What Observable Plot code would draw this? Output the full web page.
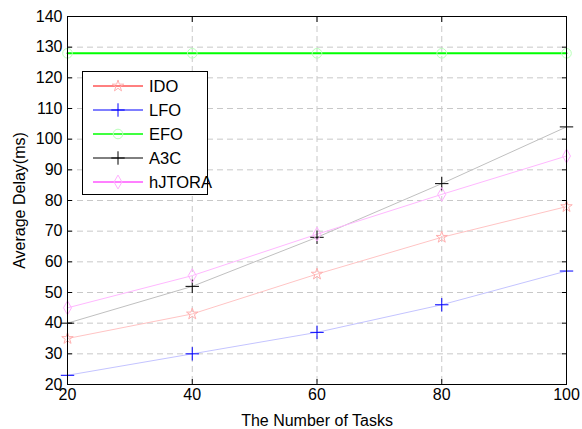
<!DOCTYPE html>
<html>
<head>
<meta charset="utf-8">
<script src="https://cdn.jsdelivr.net/npm/d3@7"></script>
<script src="https://cdn.jsdelivr.net/npm/@observablehq/plot@0.6"></script>
<style>
  html, body { margin: 0; padding: 0; background: #fff; }
  #wrap { position: relative; width: 582px; height: 429px; font-family: "Liberation Sans", Arial, sans-serif; }
  #legend { position: absolute; left: 82px; top: 71px; width: 126px; height: 124px; border: 1px solid #000; background: #fff; box-sizing: border-box; }
  .row { position: absolute; left: 0; height: 24px; width: 124px; }
  .row svg { position: absolute; left: 10px; top: 0; }
  .row span { position: absolute; left: 66px; top: 2px; font-size: 16.5px; color: #000; line-height: 20px; font-family: "Liberation Sans", Arial, sans-serif; }
</style>
</head>
<body>
<div id="wrap"></div>
<script>
const tasks = [20, 40, 60, 80, 100];
const IDO = [35, 43, 56, 68, 78];
const LFO = [23, 30, 37, 46, 57];
const EFO = [128, 128, 128, 128, 128];
const A3C = [40, 52, 68, 85.5, 104];
const hJTORA = [45, 55.5, 69, 82, 94.5];
const yTicks = [20, 30, 40, 50, 60, 70, 80, 90, 100, 110, 120, 130, 140];
const xTicks = [20, 40, 60, 80, 100];

const seriesNames = ["IDO", "LFO", "EFO", "A3C", "hJTORA"];
const seriesValues = [IDO, LFO, EFO, A3C, hJTORA];
const lineColors = ["#ffc4c4", "#c4c4ff", "#00ff00", "#c0c0c0", "#ffb8ff"];
const legendLineColors = ["#ff0000", "#0000ff", "#00ff00", "#000000", "#ff00ff"];
const markColors = ["#ffb0b0", "#0000ff", "#b8ffb8", "#000000", "#ffb0ff"];
const symbols = ["star", "plus", "circle", "plus", "diamond"];
const radii = [3.6, 4.4, 4.8, 4.4, 4.2];
const widths = [1, 1, 2, 1, 1];

const data = seriesNames.flatMap((name, i) =>
  tasks.map((t, j) => ({series: name, idx: i, x: t, y: seriesValues[i][j]})));

const font = "'Liberation Sans', Arial, sans-serif";
const marks = [
  Plot.gridY(yTicks, {stroke: "#c8c8c8", strokeOpacity: 1, strokeDasharray: "6,4"}),
  Plot.gridX(xTicks, {stroke: "#c8c8c8", strokeOpacity: 1, strokeDasharray: "6,4"}),
];
seriesNames.forEach((name, i) => {
  const d = data.filter(r => r.idx === i);
  marks.push(Plot.line(d, {x: "x", y: "y", stroke: lineColors[i], strokeWidth: widths[i]}));
});
seriesNames.forEach((name, i) => {
  const d = data.filter(r => r.idx === i);
  marks.push(Plot.dot(d, {x: "x", y: "y", symbol: symbols[i], r: radii[i], stroke: markColors[i], fill: "none", strokeWidth: 1}));
});
marks.push(
  Plot.axisY(yTicks, {anchor: "left", tickSize: -5, tickPadding: 10, fontSize: 16, fontFamily: font, label: "Average Delay(ms)", labelAnchor: "center", labelArrow: "none", labelOffset: 54}),
  Plot.axisY(yTicks, {anchor: "right", tickSize: -5, tickFormat: () => "", label: null}),
  Plot.axisX(xTicks, {anchor: "bottom", tickSize: -5, tickPadding: 9, fontSize: 16, fontFamily: font, label: "The Number of Tasks", labelAnchor: "center", labelArrow: "none", labelOffset: 41}),
  Plot.axisX(xTicks, {anchor: "top", tickSize: -5, tickFormat: () => "", label: null}),
  Plot.frame({stroke: "#000", strokeWidth: 1})
);

const chart = Plot.plot({
  width: 582,
  height: 429,
  marginLeft: 67,
  marginRight: 16,
  marginTop: 16,
  marginBottom: 45,
  style: {fontFamily: font, fontSize: "16px", color: "#000", background: "#fff"},
  x: {domain: [20, 100]},
  y: {domain: [20, 140]},
  marks
});
const wrap = document.getElementById("wrap");
wrap.appendChild(chart);

// legend
const legend = document.createElement("div");
legend.id = "legend";
seriesNames.forEach((name, i) => {
  const row = document.createElement("div");
  row.className = "row";
  row.style.top = (2 + i * 24) + "px";
  const sym = d3.symbol().type({star: d3.symbolStar, plus: d3.symbolPlus, circle: d3.symbolCircle, diamond: d3.symbolDiamond}[symbols[i]]).size(Math.PI * radii[i] * radii[i])();
  row.innerHTML = `<svg width="52" height="24"><line x1="0" x2="50" y1="12" y2="12" stroke="${legendLineColors[i]}" stroke-width="${widths[i] > 1 ? 1.5 : 1}"/><path d="${sym}" transform="translate(25,12)" fill="none" stroke="${markColors[i]}"/></svg><span>${name}</span>`;
  legend.appendChild(row);
});
wrap.appendChild(legend);
</script>
</body>
</html>
